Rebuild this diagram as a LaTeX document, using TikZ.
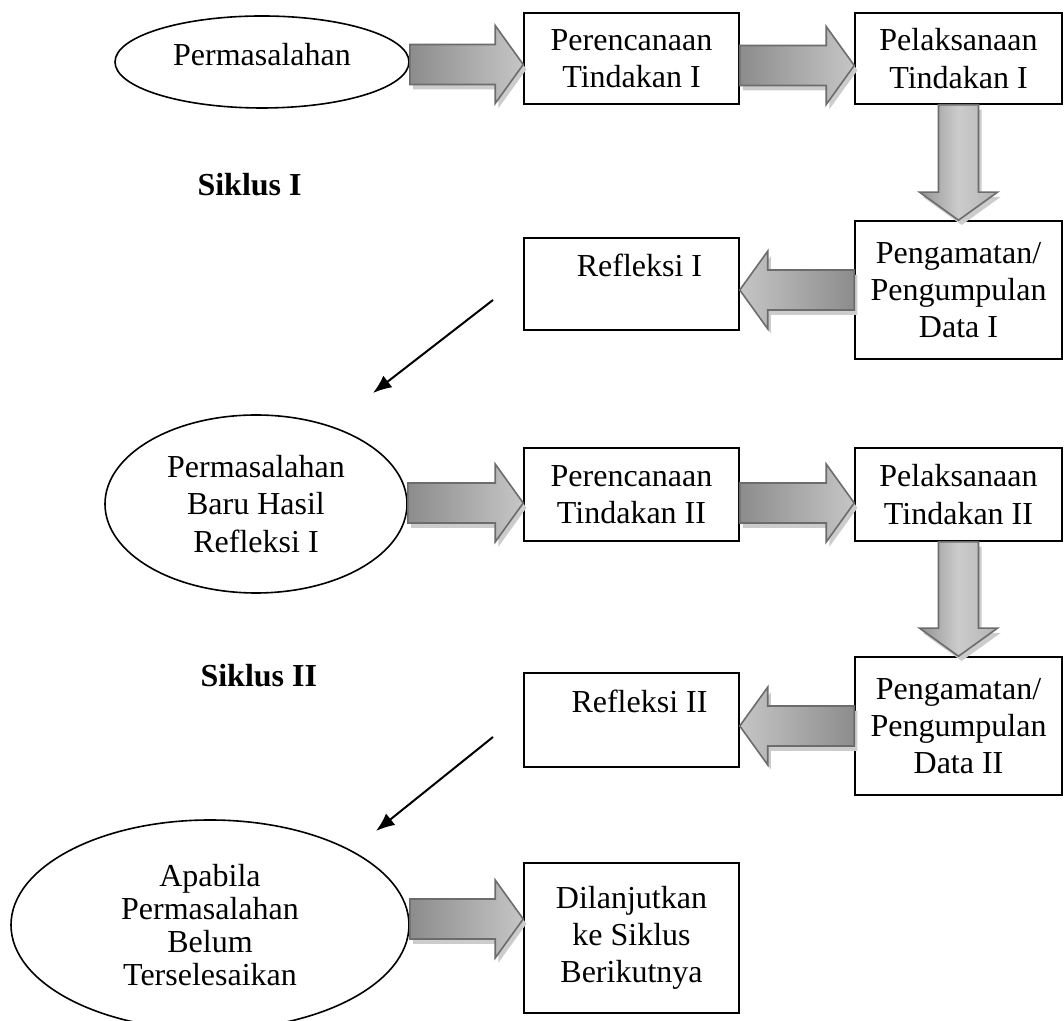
\documentclass[tikz,border=0pt]{standalone}
\usepackage{fontspec}
\setmainfont{Liberation Serif}
\usetikzlibrary{positioning,shapes.geometric,shadows,calc,arrows.meta}

\tikzset{
    stepbox/.style={rectangle, draw, semithick, align=center, inner sep=0pt, font=\fontsize{12}{14}\selectfont},
    wide/.style={minimum width=80.6pt},
    narrow/.style={minimum width=77.6pt},
    issue/.style={ellipse, draw, semithick, align=center, inner sep=0pt, font=\fontsize{12}{14}\selectfont},
    cyclelabel/.style={anchor=base west, inner sep=0pt, font=\fontsize{12}{14}\selectfont\bfseries},
    blockarrow/.style={draw=gray!85!black, line width=0.6pt, drop shadow={shadow xshift=1.2pt, shadow yshift=-1.8pt, fill=gray!40, opacity=1}},
    rightshade/.style={left color=gray!90, right color=gray!45},
    leftshade/.style={left color=gray!45, right color=gray!90},
    downshade/.style={left color=gray!85, right color=gray!60, middle color=gray!40},
    jump/.style={-{Latex[length=7pt,width=5.5pt]}, line width=0.75pt}
}

% horizontal block arrow: [y shift]{from}{to}{shading}
\newcommand{\hblock}[4][0]{%
    \path[blockarrow,#4] let \p1=(#2), \p2=($(#3)+(0,#1)$), \n1={ifthenelse(\x2>\x1,10.5,-10.5)} in
        (\x1,{\y2+7.5pt}) -- ({\x2-\n1},{\y2+7.5pt}) -- ({\x2-\n1},{\y2+14.6pt}) -- (\x2,\y2)
        -- ({\x2-\n1},{\y2-14.6pt}) -- ({\x2-\n1},{\y2-7.5pt}) -- (\x1,{\y2-7.5pt}) -- cycle;}
% downward block arrow: {from}{to}
\newcommand{\vblock}[2]{%
    \path[blockarrow,downshade] let \p1=(#1), \p2=(#2) in
        ({\x2-7.5pt},\y1) -- ({\x2-7.5pt},{\y2+10.5pt}) -- ({\x2-14.6pt},{\y2+10.5pt}) -- (\x2,\y2)
        -- ({\x2+14.6pt},{\y2+10.5pt}) -- ({\x2+7.5pt},{\y2+10.5pt}) -- ({\x2+7.5pt},\y1) -- cycle;}

\begin{document}
\begin{tikzpicture}[x=0.375pt, y=-0.375pt]
    \useasboundingbox (0,0) rectangle (1064,1021);

    % Cycle I
    \node[issue, minimum width=110.25pt, minimum height=34.5pt, text depth=6pt] (perm1) at (262,62) {Permasalahan};
    \node[stepbox, wide, minimum height=34.1pt] (renc1) at (631.5,58.5) {Perencanaan\\Tindakan I};
    \node[stepbox, narrow, minimum height=34.1pt] (pel1) at (958.5,58.5) {Pelaksanaan\\Tindakan I};
    \node[stepbox, narrow, minimum height=51.75pt] (peng1) at (958.5,290) {Pengamatan/\\Pengumpulan\\Data I};
    \node[stepbox, wide, minimum height=34.5pt] (ref1) at (631.5,284) {\hspace{6pt}Refleksi I\\\mbox{}};
    \node[cyclelabel] (sik1) at (197,196) {Siklus I};

    \hblock[6]{perm1.east}{renc1.west}{rightshade}
    \hblock[7]{renc1.east}{pel1.west}{rightshade}
    \vblock{pel1.south}{peng1.north}
    \hblock[6]{peng1.west}{ref1.east}{leftshade}

    \coordinate (j1s) at (493,300);
    \coordinate (j1e) at (373,393);
    \draw[jump] (j1s) -- (j1e);

    % Cycle II
    \node[issue, minimum width=113.25pt, minimum height=66.75pt] (perm2) at (256,504) {Permasalahan\\Baru Hasil\\Refleksi I};
    \node[stepbox, wide, minimum height=34.9pt] (renc2) at (631.5,494.5) {Perencanaan\\Tindakan II};
    \node[stepbox, narrow, minimum height=34.9pt] (pel2) at (958.5,494.5) {Pelaksanaan\\Tindakan II};
    \node[stepbox, narrow, minimum height=51.75pt] (peng2) at (958.5,726) {Pengamatan/\\Pengumpulan\\Data II};
    \node[stepbox, wide, minimum height=35.25pt] (ref2) at (631.5,720) {\hspace{6pt}Refleksi II\\\mbox{}};
    \node[cyclelabel] (sik2) at (200,687) {Siklus II};

    \hblock[8.5]{perm2.east}{renc2.west}{rightshade}
    \hblock[8.5]{renc2.east}{pel2.west}{rightshade}
    \vblock{pel2.south}{peng2.north}
    \hblock[6]{peng2.west}{ref2.east}{leftshade}

    \coordinate (j2s) at (493,737);
    \coordinate (j2e) at (376,831);
    \draw[jump] (j2s) -- (j2e);

    % Next cycle
    \node[issue, minimum width=149.25pt, minimum height=78.75pt, font=\fontsize{12}{12.4}\selectfont] (perm3) at (210,925) {Apabila\\Permasalahan\\Belum\\Terselesaikan};
    \node[stepbox, wide, minimum height=56.25pt] (lanjut) at (631.5,938) {Dilanjutkan\\ke Siklus\\Berikutnya};

    \hblock[-19]{perm3.east}{lanjut.west}{rightshade}
\end{tikzpicture}
\end{document}
